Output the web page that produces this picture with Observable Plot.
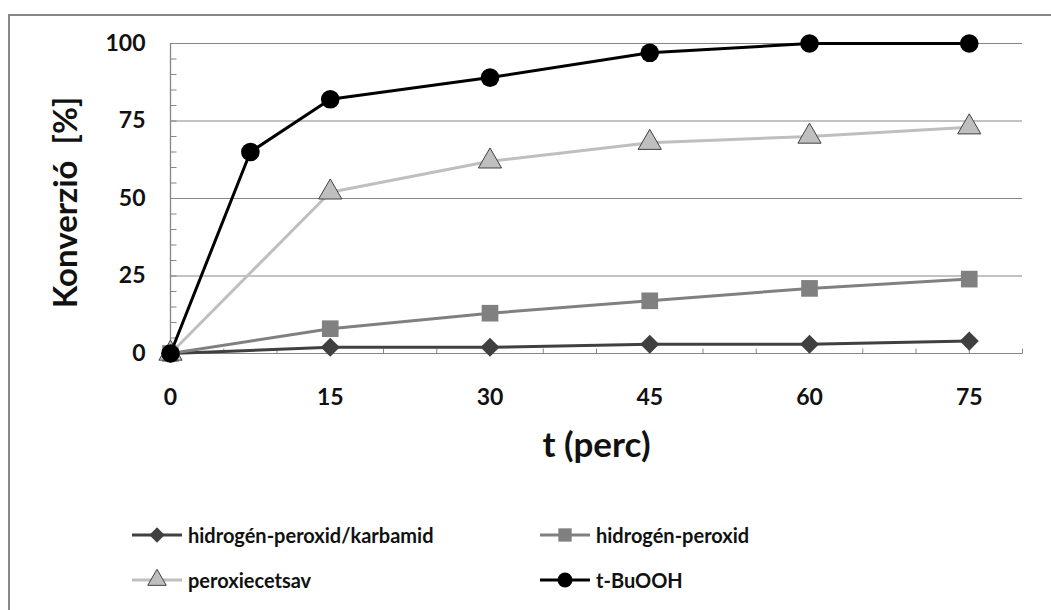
<!DOCTYPE html>
<html><head><meta charset="utf-8">
<script src="https://cdn.jsdelivr.net/npm/d3@7"></script>
<script src="https://cdn.jsdelivr.net/npm/@observablehq/plot@0.6"></script>
<style>
body{margin:0;background:#fff;font-family:Lato,"Open Sans",sans-serif;}
#wrap{position:relative;width:1051px;height:610px;overflow:hidden;background:#fff;}
#frame{position:absolute;left:8px;top:14px;width:1045px;height:620px;border:2px solid #878787;box-sizing:border-box;}
#chart{position:absolute;left:0;top:0;}
.leg{position:absolute;display:flex;align-items:center;font-size:20px;font-weight:bold;color:#111;white-space:nowrap;}
.leg svg{margin-right:6px;}
</style></head><body>
<div id="wrap"><div id="frame"></div><div id="chart"></div><div id="legend"></div></div>
<script>
// ---- data ----
const seriesNames = ["hidrogén-peroxid/karbamid", "hidrogén-peroxid", "peroxiecetsav", "t-BuOOH"];
const tStd = [0, 15, 30, 45, 60, 75];
const tBu = [0, 7.5, 15, 30, 45, 60, 75];
const karbamid = [0, 2, 2, 3, 3, 4];
const h2o2 = [0, 8, 13, 17, 21, 24];
const peroxi = [0, 52, 62, 68, 70, 73];
const tbuooh = [0, 65, 82, 89, 97, 100, 100];
const xLabelTicks = [0, 15, 30, 45, 60, 75];
const yLabelTicks = [0, 25, 50, 75, 100];
const xMinorTicks = d3.range(0, 81, 5);
const yMinorTicks = d3.range(0, 101, 5);
const xTitle = "t (perc)";
const yTitle = "Konverzió  [%]";

const styles = {
  "hidrogén-peroxid/karbamid": {line: "#404040", fill: "#404040", stroke: "none", symbol: "diamond2", r: 8.6},
  "hidrogén-peroxid": {line: "#808080", fill: "#808080", stroke: "none", symbol: "square", r: 9.4},
  "peroxiecetsav": {line: "#bfbfbf", fill: "#bfbfbf", stroke: "#404040", symbol: "triangle", r: 8.6},
  "t-BuOOH": {line: "#000000", fill: "#000000", stroke: "none", symbol: "circle", r: 9.3}
};

const rows = [];
tStd.forEach((t, i) => rows.push({series: seriesNames[0], t, v: karbamid[i]}));
tStd.forEach((t, i) => rows.push({series: seriesNames[1], t, v: h2o2[i]}));
tStd.forEach((t, i) => rows.push({series: seriesNames[2], t, v: peroxi[i]}));
tBu.forEach((t, i) => rows.push({series: seriesNames[3], t, v: tbuooh[i]}));

// small inward tick glyphs (Excel-style minor ticks)
const tickRight = {draw(ctx) { ctx.moveTo(0, 0); ctx.lineTo(6, 0); }};
const tickUp = {draw(ctx) { ctx.moveTo(0, 0); ctx.lineTo(0, -5); }};

const font = "Lato, 'Open Sans', sans-serif";
const marks = [
  Plot.ruleY(yLabelTicks, {stroke: "#868686", strokeWidth: 1}),
  Plot.ruleX([0], {stroke: "#868686", strokeWidth: 1.3}),
  Plot.dot(yMinorTicks, {y: d => d, frameAnchor: "left", symbol: tickRight, stroke: "#868686", strokeWidth: 1}),
  Plot.dot(xMinorTicks, {x: d => d, frameAnchor: "bottom", symbol: tickUp, stroke: "#868686", strokeWidth: 1}),
  Plot.axisY({ticks: yLabelTicks, tickSize: 0, tickPadding: 25, fontSize: 23, fontWeight: "bold", fill: "#111", label: null}),
  Plot.axisX({ticks: xLabelTicks, tickSize: 0, tickPadding: 35, fontSize: 23, fontWeight: "bold", fill: "#111", label: null}),
  Plot.text([xTitle], {frameAnchor: "bottom", dy: 103, fontSize: 35, fontWeight: "bold", fill: "#111"}),
  Plot.text([yTitle], {frameAnchor: "left", textAnchor: "middle", dx: -104, dy: 4, rotate: -90, fontSize: 33, fontWeight: "bold", fill: "#111"})
];
for (const name of seriesNames) {
  const s = styles[name];
  const d = rows.filter(r => r.series === name);
  marks.push(Plot.line(d, {x: "t", y: "v", stroke: s.line, strokeWidth: 3}));
  marks.push(Plot.dot(d, {x: "t", y: "v", symbol: s.symbol, r: s.r, fill: s.fill, stroke: s.stroke, strokeWidth: 1}));
}

const chart = Plot.plot({
  width: 1051, height: 480,
  marginLeft: 170, marginRight: 29, marginTop: 43, marginBottom: 127,
  x: {domain: [0, 80], axis: null},
  y: {domain: [0, 100], axis: null},
  style: {fontFamily: font, background: "transparent", overflow: "visible"},
  marks
});
document.getElementById("chart").appendChild(chart);

// ---- legend ----
const legPos = [
  {left: 132, top: 535}, {left: 540, top: 535},
  {left: 132, top: 580}, {left: 540, top: 580}
];
const leg = document.getElementById("legend");
const symMap = {circle: d3.symbolCircle, square: d3.symbolSquare, triangle: d3.symbolTriangle, diamond2: d3.symbolDiamond2};
seriesNames.forEach((name, i) => {
  const s = styles[name];
  const div = document.createElement("div");
  div.className = "leg";
  div.style.left = legPos[i].left + "px";
  div.style.top = (legPos[i].top - 14) + "px";
  div.style.height = "28px";
  const r = s.r * 0.8;
  const path = d3.symbol(symMap[s.symbol], r * r * Math.PI)();
  div.innerHTML = `<svg width="50" height="28"><line x1="0" x2="50" y1="14" y2="14" stroke="${s.line}" stroke-width="3"/>` +
    `<path d="${path}" transform="translate(25,14)" fill="${s.fill}" stroke="${s.stroke}" stroke-width="1"/></svg><span>${name}</span>`;
  leg.appendChild(div);
});
</script>
</body></html>
